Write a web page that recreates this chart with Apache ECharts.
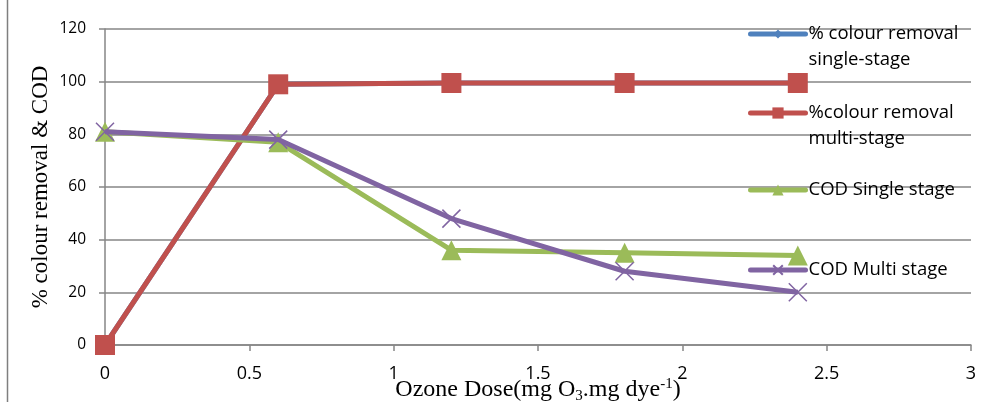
<!DOCTYPE html>
<html>
<head>
<meta charset="utf-8">
<script src="https://cdn.jsdelivr.net/npm/echarts@6/dist/echarts.min.js"></script>
<style>html,body{margin:0;padding:0;background:#fff;}#c{width:984px;height:402px;}</style>
</head>
<body>
<div id="c"></div>
<script>
var doses = [0, 0.6, 1.2, 1.8, 2.4];
var colourSingle = [0, 99, 99.5, 99.5, 99.5];
var colourMulti = [0, 99, 99.5, 99.5, 99.5];
var codSingle = [81, 77, 36, 35, 34];
var codMulti = [81, 78, 48, 28, 20];
var seriesNames = ['% colour removal single-stage', '%colour removal multi-stage', 'COD Single stage', 'COD Multi stage'];
var legendLabels = ['\n% colour removal\nsingle-stage', '\n%colour removal\nmulti-stage', 'COD Single stage', 'COD Multi stage'];
var yTicks = [0, 20, 40, 60, 80, 100, 120];
var xTicks = [0, 0.5, 1, 1.5, 2, 2.5, 3];

function pairs(vals){ return doses.map(function(d,i){ return [d, vals[i]]; }); }

var colors = ['#4F81BD', '#C0504D', '#9BBB59', '#8064A2'];
var symbols = ['diamond', 'rect', 'triangle', 'path://M0 0L10 10M10 0L0 10'];
var sizes = [10, 20, 20, 18];
var legendSizes = [11, 14, 14, 12];
var values = [colourSingle, colourMulti, codSingle, codMulti];

var legendTops = [34, 113, 190, 270];
var labelFont = '"Open Sans", Lato, sans-serif';
var legends = seriesNames.map(function(n, i){
  var lines = legendLabels[i].split('\n').length;
  var lh = 26;
  return {
    data: [n],
    left: 748,
    top: legendTops[i] - lines * lh / 2,
    itemWidth: 55,
    itemHeight: legendSizes[i],
    itemGap: 0,
    padding: 0,
    lineStyle: { width: 5, cap: 'round' },
    formatter: function(){ return legendLabels[i]; },
    textStyle: { fontFamily: labelFont, fontSize: 18.5, color: '#000', lineHeight: lh, padding: [0,0,0,-2] }
  };
});

var chart = echarts.init(document.getElementById('c'));
chart.setOption({
  animation: false,
  backgroundColor: '#fff',
  graphic: [{ type: 'line', shape: { x1: 7.5, y1: 0, x2: 7.5, y2: 402 }, style: { stroke: '#7f7f7f', lineWidth: 1.5 } }],
  legend: legends,
  grid: { left: 105, right: 13, top: 29, bottom: 57, outerBoundsMode: 'none', containLabel: false },
  xAxis: {
    type: 'value', min: 0, max: 3, interval: 0.5,
    name: '{a|Ozone Dose(mg O}{s|3}{a|.mg dye}{p|-1}{a|)}',
    nameLocation: 'middle', nameGap: 31, nameMoveOverlap: false,
    nameTextStyle: {
      rich: {
        a: { fontFamily: '"Liberation Serif", serif', fontSize: 24, color: '#000', lineHeight: 28 },
        s: { fontFamily: '"Liberation Serif", serif', fontSize: 15, color: '#000', padding: [12,0,0,0], lineHeight: 28 },
        p: { fontFamily: '"Liberation Serif", serif', fontSize: 15, color: '#000', padding: [0,0,12,0], lineHeight: 28 }
      }
    },
    axisLine: { lineStyle: { color: '#868686', width: 1.5 } },
    axisTick: { length: 6, lineStyle: { color: '#868686', width: 1.5 } },
    axisLabel: { fontFamily: labelFont, fontSize: 18, color: '#000', margin: 20, formatter: function(v){ return String(v); } },
    splitLine: { show: false }
  },
  yAxis: {
    type: 'value', min: 0, max: 120, interval: 20,
    name: '% colour removal & COD',
    nameLocation: 'middle', nameGap: 53, nameRotate: 90, nameMoveOverlap: false,
    nameTextStyle: { fontFamily: '"Liberation Serif", serif', fontSize: 23, color: '#000' },
    axisLine: { show: true, lineStyle: { color: '#868686', width: 1.5 } },
    axisTick: { show: true, length: 6, lineStyle: { color: '#868686', width: 1.5 } },
    axisLabel: { fontFamily: labelFont, fontSize: 15.5, color: '#000', margin: 19 },
    splitLine: { lineStyle: { color: '#868686', width: 1.5 } }
  },
  series: seriesNames.map(function(n, i){
    return {
      name: n, type: 'line', data: pairs(values[i]),
      symbol: symbols[i], symbolSize: sizes[i],
      lineStyle: { color: colors[i], width: 5 },
      itemStyle: { color: i === 3 ? 'transparent' : colors[i], borderColor: colors[i], borderWidth: i === 3 ? 1.5 : 0, opacity: 1 },
      z: 2 + i
    };
  })
});
</script>
</body>
</html>
